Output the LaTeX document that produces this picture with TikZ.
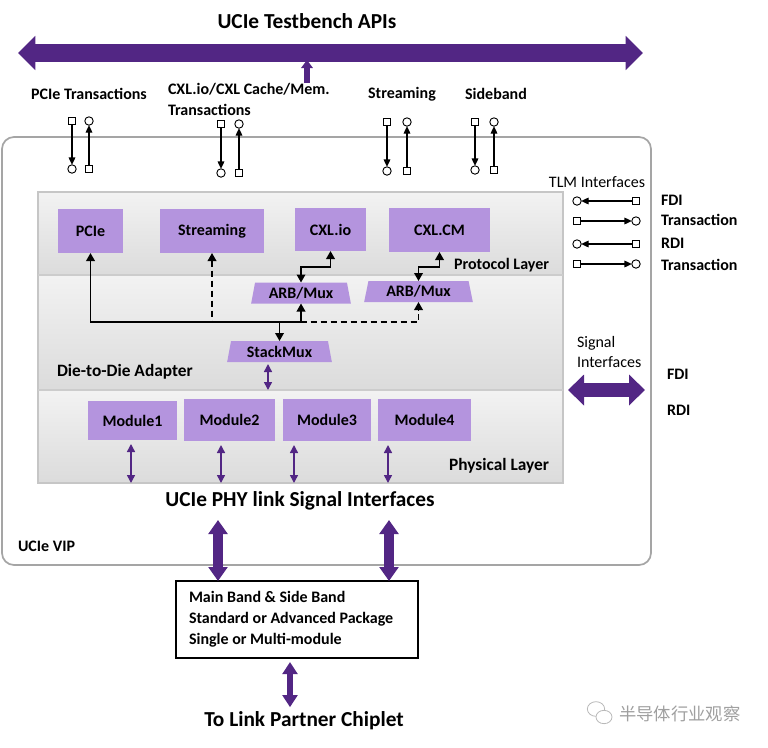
\documentclass[tikz,border=0pt]{standalone}
\usepackage{fontspec}
\setmainfont{Carlito}
\newfontfamily\cjkfont{Noto Sans CJK SC}
\usetikzlibrary{arrows.meta,shapes.geometric,fit}
\definecolor{dpurple}{RGB}{82,38,132}
\definecolor{lpurple}{RGB}{180,148,222}
\definecolor{boxgray}{RGB}{165,165,165}
\begin{document}
\begin{tikzpicture}[x=0.75pt,y=-0.75pt,
  every node/.style={inner sep=0pt, outer sep=0pt},
  lbl/.style={font=\bfseries\fontsize{12}{15.75}\selectfont},
  reg/.style={font=\fontsize{12}{15}\selectfont},
  big/.style={font=\bfseries\fontsize{16}{19}\selectfont},
  pbox/.style={fill=lpurple, lbl},
  trap/.style={trapezium, trapezium stretches=true, trapezium angle=77, fill=lpurple, lbl, minimum height=15.75pt},
  band/.style={top color=gray!10, bottom color=gray!28, draw=none},
  sq/.style={draw, line width=0.7pt, minimum size=5.5pt, fill=white},
  cc/.style={draw, circle, line width=0.7pt, minimum size=6.3pt, fill=white},
  tlm/.style={line width=0.8pt, -{Triangle[length=5.5pt,width=5pt]}},
  con/.style={line width=1.1pt, {Triangle[length=6pt,width=6.5pt]}-{Triangle[length=6pt,width=6.5pt]}},
  con1/.style={line width=1.1pt, -{Triangle[length=6pt,width=6.5pt]}},
  dsh/.style={dash pattern=on 4.5pt off 3pt},
  thinp/.style={draw=dpurple, line width=1.1pt, {Triangle[length=6pt,width=6pt]}-{Triangle[length=6pt,width=6pt]}},
  bigv/.style={draw=dpurple, line width=7.5pt, {Triangle[length=10.5pt,width=14pt]}-{Triangle[length=10.5pt,width=14pt]}}
]
\useasboundingbox (0,0) rectangle (768,747);

% ---- top API arrow
\node[big] (title) at (307,21) {UCIe Testbench APIs};
\coordinate (apiL) at (18,53);
\coordinate (apiR) at (643,53);
\draw[draw=dpurple, line width=13.5pt, {Triangle[length=13pt,width=25pt]}-{Triangle[length=13pt,width=25pt]}] (apiL) -- (apiR);
\coordinate (upB) at (307,83);
\coordinate (upT) at (307,60);
\draw[draw=dpurple, line width=4.5pt, -{Triangle[length=6pt,width=8.5pt]}] (upB) -- (upT);

% ---- transaction labels
\node[lbl] (lpcie) at (89,94) {PCIe Transactions};
\node[lbl, anchor=west, align=left] (lcxl) at (168,99.5) {CXL.io/CXL Cache/Mem.\\Transactions};
\node[lbl] (lstr) at (402,94) {Streaming};
\node[lbl] (lsb) at (496,94) {Sideband};

% ---- outer VIP box
\draw[boxgray, line width=1.3pt, rounded corners=9pt] (2,137) rectangle (651,565);
\node[lbl, anchor=west] (vip) at (18,546) {UCIe VIP};

% ---- TLM pairs on top
\foreach \n/\xa/\xb/\ya/\yb in {p/72/89/121/169, c/221/239/124/173, s/387/407/122/171, b/475/494/122/170}{
  \node[sq] (\n q1) at (\xa,\ya) {};
  \node[cc] (\n c1) at (\xa,\yb) {};
  \draw[tlm] (\n q1) -- (\n c1);
  \node[cc] (\n c2) at (\xb,\ya) {};
  \node[sq] (\n q2) at (\xb,\yb) {};
  \draw[tlm] (\n q2) -- (\n c2);
}

% ---- layer bands
\node[band, fit={(38,192) (563,275)}] (protl) {};
\node[band, fit={(38,275) (563,390)}] (d2d) {};
\node[band, fit={(38,390) (563,483)}] (phys) {};
\draw[gray!45, line width=0.8pt] (protl.north west) rectangle (phys.south east);
\draw[gray!40, line width=0.8pt] (protl.south west) -- (protl.south east);
\draw[gray!40, line width=0.8pt] (d2d.south west) -- (d2d.south east);
\node[lbl, anchor=east] (lprot) at (549,265) {Protocol Layer};
\node[font=\bfseries\fontsize{13}{15}\selectfont, anchor=west] (ld2d) at (57,372) {Die-to-Die Adapter};
\node[font=\bfseries\fontsize{13}{15}\selectfont, anchor=east] (lphys) at (549,466) {Physical Layer};

% ---- protocol boxes
\node[pbox, minimum width=48.75pt, minimum height=33pt] (pcie) at (90.5,231) {PCIe};
\node[pbox, minimum width=78pt, minimum height=33pt] (strm) at (212,231) {Streaming};
\node[pbox, minimum width=53.25pt, minimum height=32.25pt] (cxlio) at (330.5,229.5) {CXL.io};
\node[pbox, minimum width=75.75pt, minimum height=33pt] (cxlcm) at (439.5,230) {CXL.CM};

% ---- muxes
\node[trap, minimum width=75pt] (arb1) at (301,293) {ARB/Mux};
\node[trap, minimum width=81.75pt] (arb2) at (418.5,291.5) {ARB/Mux};
\node[trap, minimum width=78.75pt] (smux) at (279.5,351.5) {StackMux};

% ---- connectors
\coordinate (hl) at (0,322);
\coordinate (el) at (0,267);
\draw[con, dsh] (strm.south) -- (strm.south |- hl) -| (arb2.south);
\draw[con] (pcie.south) -- (pcie.south |- hl) -| (arb1.south);
\draw[con1] (smux.north |- hl) -- (smux.north);
\draw[con] (arb1.north) -- (arb1.north |- el) -| (cxlio.south);
\draw[con] (arb2.north) -- (arb2.north |- el) -| (cxlcm.south);
\coordinate (sx) at (268,0);
\draw[thinp] ([yshift=-1.5pt]smux.south -| sx) -- (phys.north -| sx);

% ---- modules
\node[pbox, minimum width=66.75pt, minimum height=29.25pt] (m1) at (132.5,420.5) {Module1};
\node[pbox, minimum width=68.25pt, minimum height=31.5pt] (m2) at (229.5,420) {Module2};
\node[pbox, minimum width=66pt, minimum height=31.5pt] (m3) at (327,420) {Module3};
\node[pbox, minimum width=69.75pt, minimum height=31.5pt] (m4) at (424.5,420) {Module4};
\coordinate (ax1) at (131,0);
\coordinate (ax2) at (221,0);
\coordinate (ax3) at (294,0);
\coordinate (ax4) at (388,0);
\draw[thinp] ([yshift=-3pt]m1.south -| ax1) -- (phys.south -| ax1);
\draw[thinp] ([yshift=-3pt]m2.south -| ax2) -- (phys.south -| ax2);
\draw[thinp] ([yshift=-3pt]m3.south -| ax3) -- (phys.south -| ax3);
\draw[thinp] ([yshift=-3pt]m4.south -| ax4) -- (phys.south -| ax4);

% ---- PHY link
\node[big] (phy) at (300,501) {UCIe PHY link Signal Interfaces};
\node[draw, line width=1pt, fit={(176,581) (418,658)}] (pkg) {};
\node[lbl, anchor=west, align=left] (pkgt) at (189,619.5) {Main Band \& Side Band\\Standard or Advanced Package\\Single or Multi-module};
\coordinate (va) at (218,520);
\coordinate (vb) at (389,520);
\draw[bigv] (va) -- (va |- pkg.north);
\draw[bigv] (vb) -- (vb |- pkg.north);
\node[big] (link) at (304,721) {To Link Partner Chiplet};
\coordinate (lx) at (290,0);
\draw[draw=dpurple, line width=4.5pt, {Triangle[length=9pt,width=11pt]}-{Triangle[length=9pt,width=11pt]}] ([yshift=-3pt]pkg.south -| lx) -- ([yshift=3.5pt]link.north -| lx);

% ---- TLM legend
\node[reg] (tlmt) at (597,182) {TLM Interfaces};
\node[cc] (lca) at (577,201) {};
\node[sq] (lqa) at (636,201) {};
\draw[tlm] (lqa) -- (lca);
\node[sq] (lqb) at (577,221) {};
\node[cc] (lcb) at (636,221) {};
\draw[tlm] (lqb) -- (lcb);
\node[cc] (lcc) at (577,244) {};
\node[sq] (lqc) at (636,244) {};
\draw[tlm] (lqc) -- (lcc);
\node[sq] (lqd) at (577,264) {};
\node[cc] (lcd) at (636,264) {};
\draw[tlm] (lqd) -- (lcd);
\node[lbl, anchor=west] (fdi1) at (661,200) {FDI};
\node[lbl, anchor=west] (tr1) at (661,220) {Transaction};
\node[lbl, anchor=west] (rdi1) at (661,243) {RDI};
\node[lbl, anchor=west] (tr2) at (661,265) {Transaction};

% ---- signal interfaces
\node[reg, anchor=west, align=left] (sigt) at (577,352) {Signal\\Interfaces};
\coordinate (sL) at (568,390);
\coordinate (sR) at (645,390);
\draw[draw=dpurple, line width=11pt, {Triangle[length=12pt,width=22.5pt]}-{Triangle[length=12pt,width=22.5pt]}] (sL) -- (sR);
\node[lbl, anchor=west] (fdi2) at (667,374) {FDI};
\node[lbl, anchor=west] (rdi2) at (667,410) {RDI};

% ---- watermark
\draw[gray!55, line width=0.6pt] (596,709) ellipse (6.5pt and 5.5pt);
\draw[gray!55, line width=0.6pt, fill=white] (604,717) ellipse (6pt and 5pt);
\node[font=\cjkfont\fontsize{13}{15}\selectfont, text=gray!75, anchor=west] (wm) at (619,714) {半导体行业观察};
\end{tikzpicture}
\end{document}
